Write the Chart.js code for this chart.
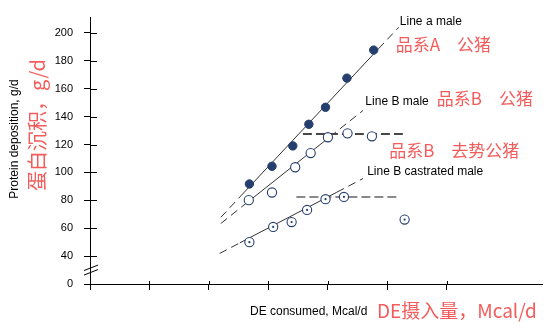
<!DOCTYPE html>
<html>
<head>
<meta charset="utf-8">
<script src="https://cdn.jsdelivr.net/npm/chart.js@4"></script>
<style>
  html, body { margin: 0; padding: 0; background: #fff; }
  #wrap { width: 554px; height: 328px; }
</style>
</head>
<body>
<div id="wrap"><canvas id="chart"></canvas></div>
<script>
// values (x = DE consumed, y = protein deposition)
const lineAx = [2.68, 3.06, 3.41, 3.68, 3.96, 4.32, 4.77];
const lineAy = [91.7, 104.4, 119, 134.5, 146.7, 167.6, 187.7];
const maleBx = [2.67, 3.06, 3.45, 3.71, 4.0, 4.33, 4.74];
const maleBy = [80.1, 85.6, 103.7, 113.9, 125.2, 128, 125.9];
const castBx = [2.68, 3.08, 3.39, 3.65, 3.96, 4.27, 5.29];
const castBy = [50, 60.9, 64.4, 73.1, 80.8, 82.4, 66.2];

// fitted lines: start, solid start, solid end, end
const fitAx = [2.20, 2.55, 4.85, 5.19];
const fitAy = [67.8, 83.8, 188.6, 204];
const fitBx = [2.20, 2.55, 4.03, 4.59];
const fitBy = [63.4, 75.3, 125.4, 144.4];
const fitCx = [2.18, 2.52, 4.15, 4.59];
const fitCy = [41.9, 49.5, 85.8, 95.6];

// plateaus
const platBx = [3.58, 5.26];
const platBy = [127.6, 127.6];
const platCx = [3.47, 5.15];
const platCy = [82.4, 82.4];

const xTicks = [0, 1, 2, 3, 4, 5, 6];
const yTicks = [20, 40, 60, 80, 100, 120, 140, 160, 180, 200];
const yTickLabels = ['0', '40', '60', '80', '100', '120', '140', '160', '180', '200'];

const noteText = ['Line a male', '品系A　公猪', 'Line B male', '品系B　公猪', '品系B　去势公猪', 'Line B castrated male'];
const noteX = [5.21, 5.14, 4.63, 5.83, 5.03, 4.66];
const noteY = [207.8, 191.7, 150.8, 153.1, 115.7, 100.8];

const pts = (xs, ys) => xs.map((x, i) => ({ x: x, y: ys[i] }));

const EN = "Arial, 'Liberation Sans', sans-serif";
const ZH = "'Noto Sans CJK SC', sans-serif";
const RED = '#f45c5c';
const NAVY = '#243f6e';

const fitDash = {
  borderDash: ctx => ctx.p0DataIndex === 1 ? [] : [8, 5]
};

const fitLine = (xs, ys) => ({
  data: pts(xs, ys), showLine: true, pointRadius: 0,
  borderColor: '#333', borderWidth: 1, segment: fitDash, order: 3
});

const plateau = (xs, ys, color) => ({
  data: pts(xs, ys), showLine: true, pointRadius: 0,
  borderColor: color, borderWidth: 2, borderDash: [9, 4], order: 2
});

const decor = {
  id: 'decor',
  afterDraw(chart) {
    const c = chart.ctx;
    const a = chart.chartArea;
    const xs = chart.scales.x, ys = chart.scales.y;
    c.save();
    c.strokeStyle = '#000';
    c.lineWidth = 1;
    // inner halves of the tick marks
    c.beginPath();
    ys.ticks.forEach(t => {
      const py = Math.round(ys.getPixelForValue(t.value)) + 0.5;
      c.moveTo(a.left, py); c.lineTo(a.left + 7, py);
    });
    xs.ticks.forEach(t => {
      const px = Math.round(xs.getPixelForValue(t.value)) + 0.5;
      c.moveTo(px, a.bottom); c.lineTo(px, a.bottom - 3);
    });
    // axis break
    const by = ys.getPixelForValue(30);
    c.moveTo(a.left - 6, by + 0.5); c.lineTo(a.left + 8, by - 5);
    c.moveTo(a.left - 6, by + 5); c.lineTo(a.left + 8, by - 0.5);
    c.stroke();

    // notes next to the lines
    c.textBaseline = 'middle';
    c.textAlign = 'left';
    noteText.forEach((t, i) => {
      const zh = /[\u4e00-\u9fff]/.test(t);
      c.font = zh ? '17px ' + ZH : '12px ' + EN;
      c.fillStyle = zh ? RED : '#000';
      c.fillText(t, xs.getPixelForValue(noteX[i]), ys.getPixelForValue(noteY[i]));
    });

    // axis titles
    c.font = '12px ' + EN;
    c.fillStyle = '#000';
    c.fillText('DE consumed, Mcal/d', 250, 312);
    c.font = '19px ' + ZH;
    c.fillStyle = RED;
    c.fillText('DE摄入量，Mcal/d', 377, 311);

    c.save();
    c.translate(15, 139);
    c.rotate(-Math.PI / 2);
    c.textAlign = 'center';
    c.font = '12px ' + EN;
    c.fillStyle = '#000';
    c.fillText('Protein deposition, g/d', 0, 0);
    c.restore();

    c.save();
    c.translate(37, 125);
    c.rotate(-Math.PI / 2);
    c.textAlign = 'center';
    c.font = '20px ' + ZH;
    c.fillStyle = RED;
    c.fillText('蛋白沉积，g/d', 0, 0);
    c.restore();
    c.restore();
  }
};

new Chart(document.getElementById('chart').getContext('2d'), {
  type: 'scatter',
  data: {
    datasets: [
      fitLine(fitAx, fitAy),
      fitLine(fitBx, fitBy),
      fitLine(fitCx, fitCy),
      plateau(platBx, platBy, '#474747'),
      plateau(platCx, platCy, '#8a8a8a'),
      { data: pts(lineAx, lineAy), pointRadius: 4.2, backgroundColor: NAVY, borderColor: NAVY, borderWidth: 1, order: 1 },
      { data: pts(maleBx, maleBy), pointRadius: 4.6, backgroundColor: '#fff', borderColor: NAVY, borderWidth: 1.1, order: 1 },
      { data: pts(castBx, castBy), pointRadius: 4.6, backgroundColor: '#fff', borderColor: NAVY, borderWidth: 1.1, order: 1 },
      { data: pts(castBx, castBy), pointRadius: 1.1, backgroundColor: NAVY, borderColor: NAVY, borderWidth: 0, order: 0 }
    ]
  },
  options: {
    responsive: true,
    maintainAspectRatio: false,
    animation: false,
    events: [],
    layout: { padding: { top: 8, right: 12, left: 0, bottom: 0 } },
    plugins: { legend: { display: false }, tooltip: { enabled: false } },
    scales: {
      x: {
        type: 'linear', min: 0, max: 7.6,
        afterBuildTicks: s => { s.ticks = xTicks.map(v => ({ value: v })); },
        afterFit: s => { s.height = 44; },
        grid: { drawOnChartArea: false, drawTicks: true, tickLength: 6, color: '#000' },
        border: { color: '#000', width: 1 },
        ticks: { callback: () => '' }
      },
      y: {
        type: 'linear', min: 20, max: 211,
        afterBuildTicks: s => { s.ticks = yTicks.map(v => ({ value: v })); },
        afterFit: s => { s.width = 90; },
        grid: { drawOnChartArea: false, drawTicks: true, tickLength: 6, color: '#000' },
        border: { color: '#000', width: 1 },
        ticks: {
          padding: 11, color: '#000',
          font: { family: EN, size: 11 },
          callback: v => yTickLabels[yTicks.indexOf(v)]
        }
      }
    }
  },
  plugins: [decor]
});
</script>
</body>
</html>
